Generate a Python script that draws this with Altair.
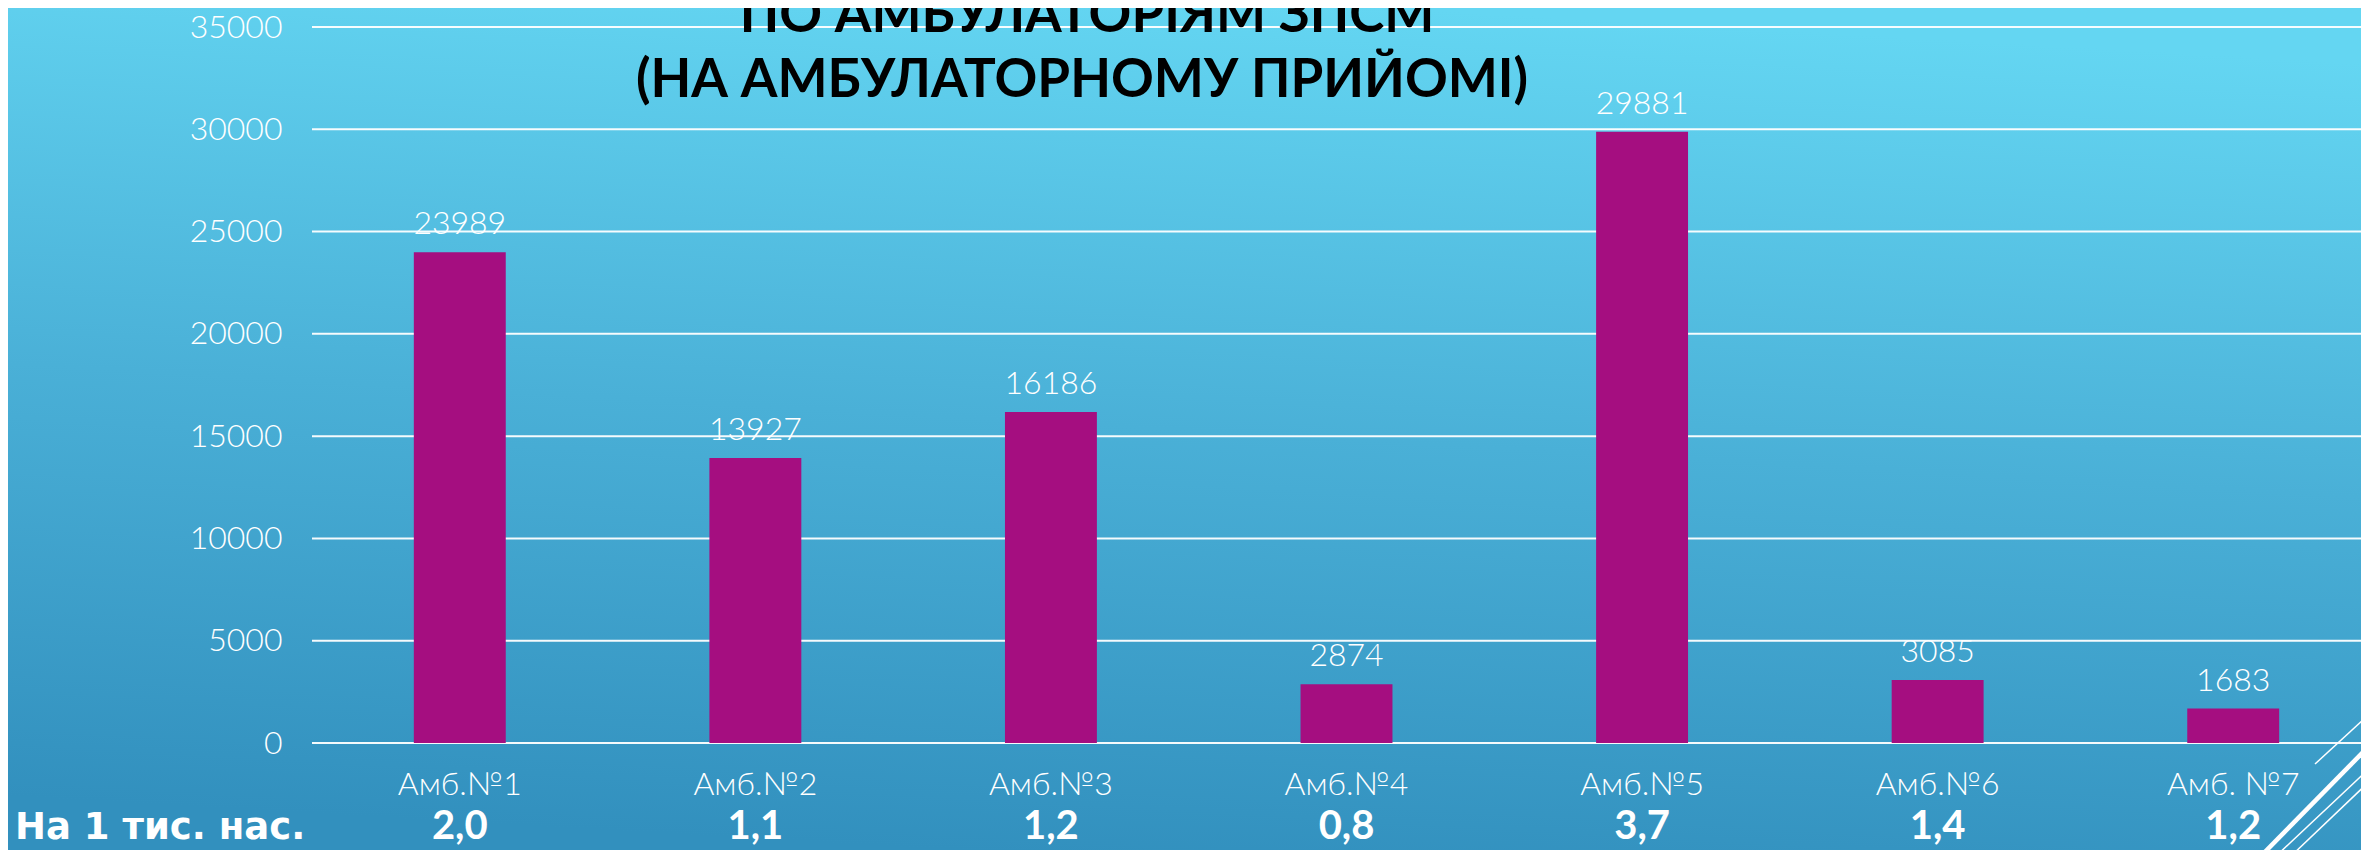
import altair as alt
import pandas as pd

categories = ["Амб.№1", "Амб.№2", "Амб.№3", "Амб.№4", "Амб.№5", "Амб.№6", "Амб. №7"]
visits = [23989, 13927, 16186, 2874, 29881, 3085, 1683]
per_thousand = ["2,0", "1,1", "1,2", "0,8", "3,7", "1,4", "1,2"]
row_label = ["На 1 тис. нас."]
title_lines = ["ПО АМБУЛАТОРІЯМ ЗПСМ", "(НА АМБУЛАТОРНОМУ ПРИЙОМІ)"]
y_ticks = [0, 5000, 10000, 15000, 20000, 25000, 30000, 35000]

df = pd.DataFrame({"cat": categories, "value": visits, "rate": per_thousand})
ticks_df = pd.DataFrame({"tick": y_ticks})

W, H = 2049, 716
FONT = "Lato"

xscale = alt.Scale(domain=categories, range=[0, 2069], paddingInner=0.689, paddingOuter=0.3445)
x = alt.X("cat:N", scale=xscale, axis=None, sort=categories)
yscale = alt.Scale(domain=[0, 35000], nice=False)

gradient = {
    "gradient": "linear",
    "x1": 0.42, "y1": 1, "x2": 0.58, "y2": 0,
    "stops": [
        {"offset": 0, "color": "#3290BE"},
        {"offset": 0.5, "color": "#4AB0D7"},
        {"offset": 1, "color": "#64D6F2"},
    ],
}

bg = alt.Chart(pd.DataFrame({"a": [0]})).mark_rect(color=gradient).encode(
    x=alt.value(-304), x2=alt.value(W + 30), y=alt.value(-19), y2=alt.value(H + 110)
)

grid = alt.Chart(ticks_df).mark_rule(color="white", strokeWidth=2, opacity=0.95).encode(
    x=alt.value(0), x2=alt.value(W + 30),
    y=alt.Y("tick:Q", scale=yscale,
            axis=alt.Axis(values=y_ticks, format="d", title=None, domain=False, ticks=False,
                          grid=False, labelColor="white", labelFont=FONT, labelFontWeight=300,
                          labelFontSize=32, labelPadding=30, zindex=1)),
)

bars = alt.Chart(df).mark_bar(color="#A50E80").encode(
    x=x,
    y=alt.Y("value:Q", scale=yscale),
)

value_labels = alt.Chart(df).mark_text(
    color="white", font=FONT, fontWeight=300, fontSize=32, baseline="alphabetic", dy=-18
).encode(x=x, y=alt.Y("value:Q", scale=yscale), text="value:Q")

x_labels = alt.Chart(df).mark_text(
    color="white", font=FONT, fontWeight=300, fontSize=32, baseline="middle"
).encode(x=x, y=alt.value(H + 42), text="cat:N")

rates = alt.Chart(df).mark_text(
    color="white", font=FONT, fontWeight="bold", fontSize=40, baseline="alphabetic"
).encode(x=x, y=alt.value(H + 96), text="rate:N")

row = alt.Chart(pd.DataFrame({"t": row_label})).mark_text(
    color="white", font="DejaVu Sans", fontWeight="bold", fontSize=37, baseline="alphabetic",
    align="left"
).encode(x=alt.value(-297), y=alt.value(H + 96), text="t:N")

title1 = alt.Chart(pd.DataFrame({"t": [title_lines[0]]})).mark_text(
    color="black", font=FONT, fontWeight="bold", fontSize=53, baseline="alphabetic", align="center"
).encode(x=alt.value(775), y=alt.value(5), text="t:N")

title2 = alt.Chart(pd.DataFrame({"t": [title_lines[1]]})).mark_text(
    color="black", font=FONT, fontWeight="bold", fontSize=53, baseline="alphabetic", align="center"
).encode(x=alt.value(770), y=alt.value(70), text="t:N")

one = pd.DataFrame({"a": [0]})
deco = alt.layer(
    alt.Chart(one).mark_rule(color="white", strokeWidth=1.5).encode(
        x=alt.value(2003), y=alt.value(737), x2=alt.value(2063), y2=alt.value(682)),
    alt.Chart(one).mark_rule(color="white", strokeWidth=4.5).encode(
        x=alt.value(1947), y=alt.value(831), x2=alt.value(2063), y2=alt.value(713)),
    alt.Chart(one).mark_rule(color="white", strokeWidth=1.5).encode(
        x=alt.value(1962), y=alt.value(831), x2=alt.value(2063), y2=alt.value(736)),
    alt.Chart(one).mark_rule(color="white", strokeWidth=1.5).encode(
        x=alt.value(1977), y=alt.value(831), x2=alt.value(2063), y2=alt.value(749)),
)

chart = alt.layer(bg, grid, bars, value_labels, x_labels, rates, row, title1, title2, deco).properties(
    width=W, height=H,
    autosize=alt.AutoSizeParams(type="none"),
    padding={"left": 304, "top": 19, "right": 0, "bottom": 107},
    background="#46A9D2",
).configure_view(stroke=None)

chart.save("out.html", embed_options={"renderer": "svg", "actions": False})
